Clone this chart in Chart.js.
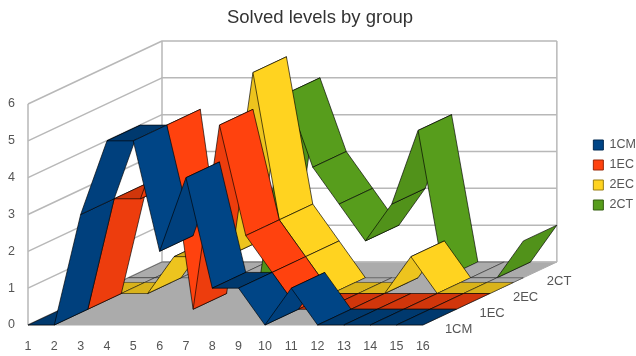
<!DOCTYPE html>
<html>
<head>
<meta charset="utf-8">
<script src="https://cdn.jsdelivr.net/npm/chart.js@4/dist/chart.umd.min.js"></script>
<style>
html, body { margin: 0; padding: 0; background: #fff; }
canvas { display: block; filter: blur(0.5px); }
</style>
</head>
<body>
<canvas id="chart" width="636" height="356"></canvas>
<script>
// values
var categories = ['1', '2', '3', '4', '5', '6', '7', '8', '9', '10', '11', '12', '13', '14', '15', '16'];
var seriesNames = ['1CM', '1EC', '2EC', '2CT'];
var values1CM = [0, 0, 3, 5, 5, 2, 4, 1, 1, 0, 1, 0, 0, 0, 0, 0];
var values1EC = [0, 0, 3, 3, 5, 0, 5, 2, 1, 0, 0, 0, 0, 0, 0, 0];
var values2EC = [0, 0, 0, 1, 1, 1, 6, 2, 1, 0, 0, 0, 1, 0, 0, 0];
var values2CT = [0, 0, 0, 0, 0, 0, 5, 3, 2, 1, 2, 4, 0, 0, 0, 1];
var yTicks = [0, 1, 2, 3, 4, 5, 6];

var seriesColors = ['#004586', '#ff420e', '#ffd320', '#579d1c'];
var allValues = [values1CM, values1EC, values2EC, values2CT];

// how far the back of the floor is moved from the front, in pixels
var DEPTH_X = 134;
var DEPTH_Y = -63;
var WALL = '#b8b8b8';
var FLOOR = '#ababab';
var TEXT = '#555555';
var EDGE = 'rgba(0,0,0,0.65)';

// darker or lighter version of a colour
function shade(hex, f) {
    var r = parseInt(hex.substr(1, 2), 16) * f;
    var g = parseInt(hex.substr(3, 2), 16) * f;
    var b = parseInt(hex.substr(5, 2), 16) * f;
    return 'rgb(' + Math.round(r) + ',' + Math.round(g) + ',' + Math.round(b) + ')';
}

function quad(ctx, a, b, c, d, fill, edge) {
    ctx.beginPath();
    ctx.moveTo(a.x, a.y);
    ctx.lineTo(b.x, b.y);
    ctx.lineTo(c.x, c.y);
    ctx.lineTo(d.x, d.y);
    ctx.closePath();
    ctx.fillStyle = fill;
    ctx.fill();
    ctx.strokeStyle = edge;
    ctx.stroke();
}

// move a point of the chart plane back by a share of the depth
function back(p, share) {
    return { x: p.x + DEPTH_X * share, y: p.y + DEPTH_Y * share };
}

var deepLines = {
    id: 'deepLines',
    beforeDatasetsDraw: function(chart) {
        var ctx = chart.ctx;
        var xs = chart.scales.x;
        var ys = chart.scales.y;
        var left = xs.left, right = xs.right;
        var zero = ys.getPixelForValue(0);
        var top = ys.getPixelForValue(6);

        ctx.save();
        ctx.lineJoin = 'round';

        // floor
        ctx.lineWidth = 1;
        quad(ctx, { x: left, y: zero }, { x: right, y: zero },
            back({ x: right, y: zero }, 1), back({ x: left, y: zero }, 1), FLOOR, FLOOR);

        // side and back walls with their grid lines
        ctx.lineWidth = 1.5;
        ctx.strokeStyle = WALL;
        yTicks.forEach(function(v) {
            var y = ys.getPixelForValue(v);
            var a = back({ x: left, y: y }, 1);
            var b = back({ x: right, y: y }, 1);
            ctx.beginPath();
            ctx.moveTo(left, y);
            ctx.lineTo(a.x, a.y);
            ctx.lineTo(b.x, b.y);
            ctx.stroke();
        });
        ctx.beginPath();
        ctx.moveTo(left, zero);
        ctx.lineTo(left, top);
        ctx.moveTo(left + DEPTH_X, zero + DEPTH_Y);
        ctx.lineTo(left + DEPTH_X, top + DEPTH_Y);
        ctx.moveTo(right + DEPTH_X, zero + DEPTH_Y);
        ctx.lineTo(right + DEPTH_X, top + DEPTH_Y);
        ctx.stroke();

        // ribbons, back series first, left to right inside a series
        ctx.lineWidth = 1;
        for (var s = chart.data.datasets.length - 1; s >= 0; s--) {
            var pts = chart.getDatasetMeta(s).data;
            var vals = chart.data.datasets[s].data;
            var d0 = s / 4, d1 = (s + 1) / 4;
            var color = seriesColors[s];
            for (var i = 0; i < pts.length - 1; i++) {
                var a = back(pts[i], d0), b = back(pts[i + 1], d0);
                var c = back(pts[i + 1], d1), d = back(pts[i], d1);
                var flat = vals[i] === vals[i + 1];
                var onFloor = flat && vals[i] === 0;
                if (onFloor && s === 3) {
                    // the floor shows through the green band at zero
                    quad(ctx, a, b, c, d, FLOOR, 'rgba(0,0,0,0.4)');
                } else if (onFloor && s === 2) {
                    // same for the back part of the yellow band
                    quad(ctx, a, b, c, d, FLOOR, 'rgba(0,0,0,0.4)');
                    var d2 = d0 + 0.175;
                    quad(ctx, a, b, back(pts[i + 1], d2), back(pts[i], d2), shade(color, 0.85), 'rgba(0,0,0,0.4)');
                } else {
                    var f = flat ? 0.82 : (vals[i + 1] > vals[i] ? 0.93 : 1);
                    quad(ctx, a, b, c, d, shade(color, f), EDGE);
                }
            }
        }
        ctx.restore();
    },
    afterDraw: function(chart) {
        // names of the series along the depth axis
        var ctx = chart.ctx;
        var right = chart.scales.x.right;
        var zero = chart.scales.y.getPixelForValue(0);
        ctx.save();
        ctx.font = '13px "Liberation Sans"';
        ctx.fillStyle = TEXT;
        ctx.textAlign = 'center';
        ctx.textBaseline = 'middle';
        seriesNames.forEach(function(name, i) {
            var p = back({ x: right, y: zero }, (i + 0.5) / 4);
            ctx.fillText(name, p.x + 19, p.y + 12);
        });
        ctx.restore();
    }
};

var datasets = seriesNames.map(function(name, i) {
    return {
        label: name,
        data: allValues[i],
        backgroundColor: seriesColors[i],
        borderColor: shade(seriesColors[i], 0.6),
        borderWidth: 1,
        showLine: false,
        pointRadius: 0
    };
});

new Chart(document.getElementById('chart').getContext('2d'), {
    type: 'line',
    data: { labels: categories, datasets: datasets },
    plugins: [deepLines],
    options: {
        responsive: false,
        animation: false,
        layout: { padding: { left: -6, bottom: 6, right: -10 } },
        plugins: {
            title: {
                display: true,
                text: 'Solved levels by group',
                color: '#333333',
                font: { family: 'Liberation Sans', size: 18.5, weight: 'normal' },
                padding: { top: 7, bottom: 74.8 }
            },
            legend: {
                position: 'right',
                labels: {
                    boxWidth: 10,
                    boxHeight: 10,
                    padding: 7.5,
                    color: TEXT,
                    font: { family: 'Liberation Sans', size: 12.5 }
                }
            },
            tooltip: { enabled: false }
        },
        scales: {
            x: {
                grid: { display: false },
                border: { display: false },
                ticks: {
                    color: TEXT,
                    autoSkip: false,
                    maxRotation: 0,
                    padding: 6,
                    font: { family: 'Liberation Sans', size: 12.5 }
                },
                afterFit: function(s) { s.height = 25; }
            },
            y: {
                min: 0,
                max: 6,
                grid: { display: false },
                border: { display: false },
                ticks: {
                    color: TEXT,
                    stepSize: 1,
                    padding: 5,
                    font: { family: 'Liberation Sans', size: 12.5 }
                },
                afterFit: function(s) { s.width = 34; }
            },
            // empty axis that keeps the room for the depth of the floor
            y2: {
                position: 'right',
                grid: { display: false },
                border: { display: false },
                ticks: { display: false },
                afterFit: function(s) { s.width = 163; }
            }
        }
    }
});
</script>
</body>
</html>
